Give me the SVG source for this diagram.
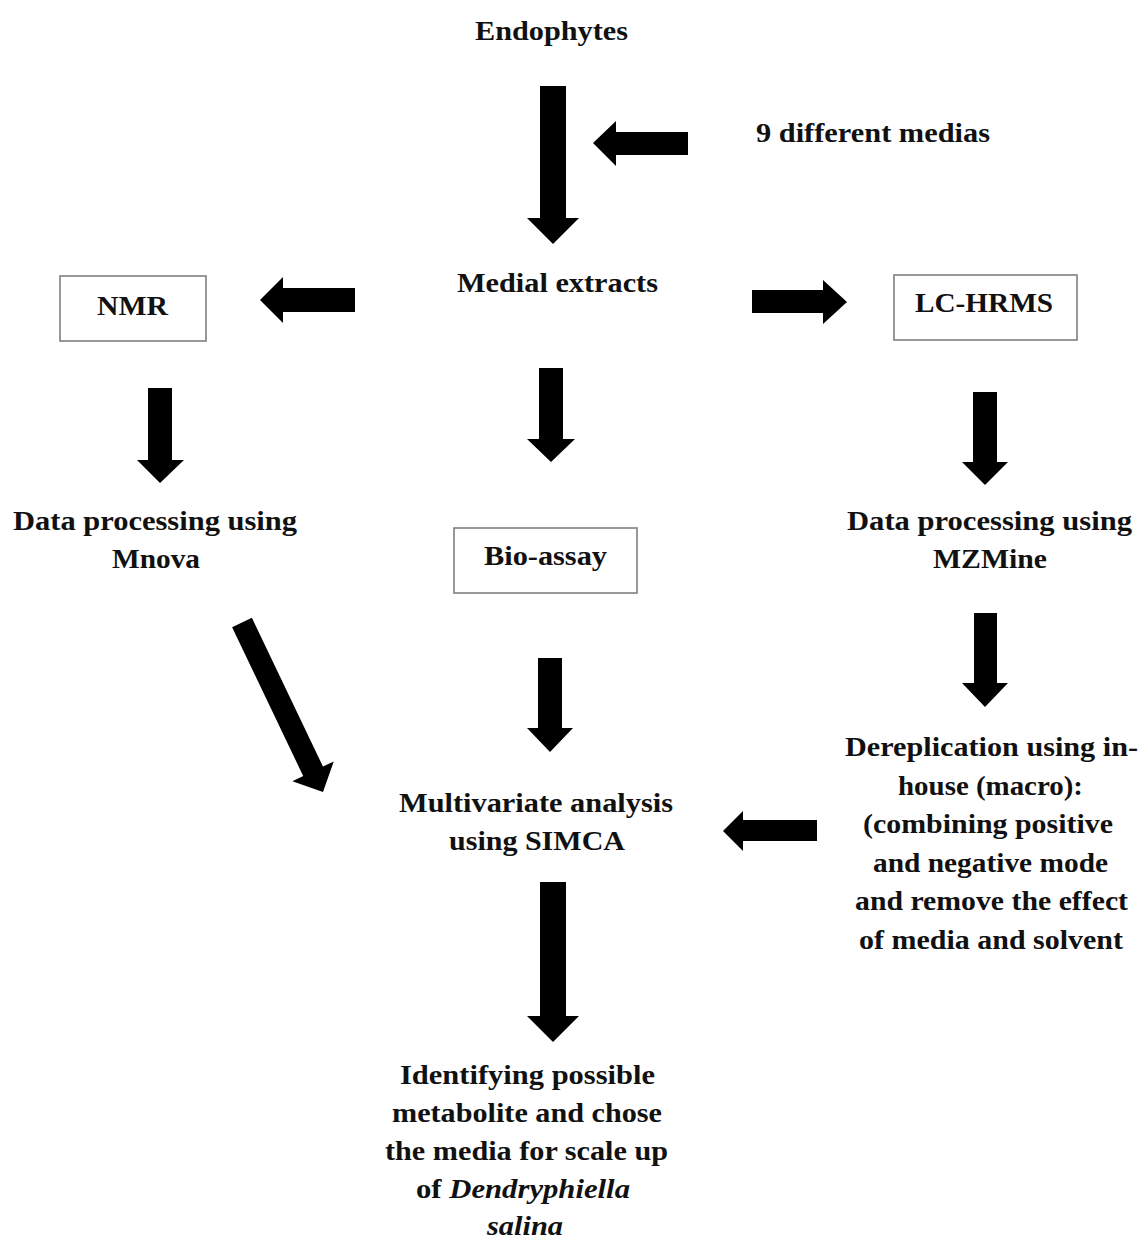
<svg xmlns="http://www.w3.org/2000/svg" width="1142" height="1243" viewBox="0 0 1142 1243">
<style>
text{font-family:"Liberation Serif","Times New Roman",serif;font-weight:bold;font-size:28px;fill:#111}
.box{fill:#fff;stroke:#7f7f7f;stroke-width:1.6}
.arr{fill:#000}
</style>
<rect width="1142" height="1243" fill="#fff"/>
<g id="connectors">
<polygon class="arr" points="540,86 566,86 566,218 579,218 553,244 527,218 540,218"/>
<polygon class="arr" points="688,132 688,155 616,155 616,166 593,143 616,121 616,132"/>
<polygon class="arr" points="355,288 355,312 283,312 283,323 260,300 283,277 283,288"/>
<polygon class="arr" points="752,290 823,290 823,280 847,302 823,324 823,313 752,313"/>
<polygon class="arr" points="148,388 172,388 172,460 184,460 160,483 137,460 148,460"/>
<polygon class="arr" points="539,368 563,368 563,439 575,439 551,462 527,439 539,439"/>
<polygon class="arr" points="973,392 997,392 997,462 1008,462 985,485 962,462 973,462"/>
<polygon class="arr" points="251.9,617.8 323,766.6 333.8,761.4 323,792 292.4,781.2 303.2,776 232.1,627.2"/>
<polygon class="arr" points="538,658 562,658 562,728 573,728 550,752 527,728 538,728"/>
<polygon class="arr" points="974,613 997,613 997,683 1008,683 985,707 962,683 974,683"/>
<polygon class="arr" points="817,820 817,841 743,841 743,851 723,831 743,811 743,820"/>
<polygon class="arr" points="540,882 566,882 566,1016 579,1016 553,1042 527,1016 540,1016"/>
</g>
<g id="endophytes"><text x="475" y="40" textLength="153" lengthAdjust="spacingAndGlyphs">Endophytes</text></g>
<g id="medias"><text x="756" y="142" textLength="234" lengthAdjust="spacingAndGlyphs">9 different medias</text></g>
<g id="medial-extracts"><text x="457" y="292" textLength="201" lengthAdjust="spacingAndGlyphs">Medial extracts</text></g>
<g id="nmr"><rect class="box" x="60" y="276" width="146" height="65"/><text x="97" y="315" textLength="71" lengthAdjust="spacingAndGlyphs">NMR</text></g>
<g id="lc-hrms"><rect class="box" x="894" y="275" width="183" height="65"/><text x="915" y="312" textLength="138" lengthAdjust="spacingAndGlyphs">LC-HRMS</text></g>
<g id="mnova">
<text x="13" y="530" textLength="284" lengthAdjust="spacingAndGlyphs">Data processing using</text>
<text x="112" y="568" textLength="88" lengthAdjust="spacingAndGlyphs">Mnova</text>
</g>
<g id="bio-assay"><rect class="box" x="454" y="528" width="183" height="65"/><text x="484" y="565" textLength="123" lengthAdjust="spacingAndGlyphs">Bio-assay</text></g>
<g id="mzmine">
<text x="847" y="530" textLength="285" lengthAdjust="spacingAndGlyphs">Data processing using</text>
<text x="933" y="568" textLength="114" lengthAdjust="spacingAndGlyphs">MZMine</text>
</g>
<g id="multivariate">
<text x="399" y="812" textLength="274" lengthAdjust="spacingAndGlyphs">Multivariate analysis</text>
<text x="449" y="850" textLength="176" lengthAdjust="spacingAndGlyphs">using SIMCA</text>
</g>
<g id="dereplication">
<text x="845" y="756" textLength="293" lengthAdjust="spacingAndGlyphs">Dereplication using in-</text>
<text x="898" y="795" textLength="185" lengthAdjust="spacingAndGlyphs">house (macro):</text>
<text x="863" y="833" textLength="250" lengthAdjust="spacingAndGlyphs">(combining positive</text>
<text x="873" y="872" textLength="235" lengthAdjust="spacingAndGlyphs">and negative mode</text>
<text x="855" y="910" textLength="273" lengthAdjust="spacingAndGlyphs">and remove the effect</text>
<text x="859" y="949" textLength="264" lengthAdjust="spacingAndGlyphs">of media and solvent</text>
</g>
<g id="identifying">
<text x="400" y="1084" textLength="255" lengthAdjust="spacingAndGlyphs">Identifying possible</text>
<text x="392" y="1122" textLength="270" lengthAdjust="spacingAndGlyphs">metabolite and chose</text>
<text x="385" y="1160" textLength="283" lengthAdjust="spacingAndGlyphs">the media for scale up</text>
<text x="416" y="1198" textLength="214" lengthAdjust="spacingAndGlyphs">of <tspan font-style="italic">Dendryphiella</tspan></text>
<text x="487" y="1235" textLength="76" lengthAdjust="spacingAndGlyphs" font-style="italic">salina</text>
</g>
</svg>
